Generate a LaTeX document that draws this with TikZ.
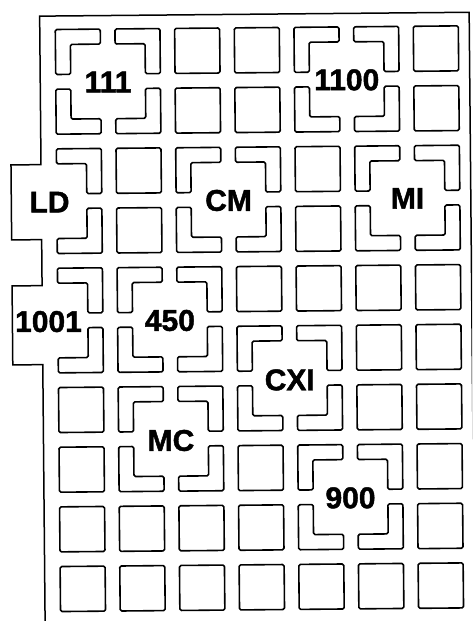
\documentclass[tikz,border=0pt]{standalone}
\usepackage{fontspec}
\setmainfont{Liberation Sans}
\newfontfamily\lblfont[FakeBold=1.5]{Liberation Sans}
\newcommand\cellF[2]{\draw[cellst] ({55+59.67*(#1-1)},{30+59.67*(#2-1)}) rectangle ++(45,45);}
\newcommand\cellL[4]{\begin{scope}[shift={({77.5+59.67*(#1-1)},{52.5+59.67*(#2-1)})},xscale=#3,yscale=#4]
\draw[cellst] (-22.5,-22.5) -- (22.5,-22.5) -- (22.5,-7.5) -- (-7.5,-7.5) -- (-7.5,22.5) -- (-22.5,22.5) -- cycle;
\end{scope}}
\newcommand\cellGroup[2]{\cellL{#1}{#2}{1}{1}\cellL{#1+1}{#2}{-1}{1}\cellL{#1}{#2+1}{1}{-1}\cellL{#1+1}{#2+1}{-1}{-1}}
\begin{document}
\begin{tikzpicture}[x=1pt,y=-1pt,
  cellst/.style={draw=black,line width=1.6pt,rounded corners=1.5pt,line join=round},
  framest/.style={draw=black,line width=1.5pt},
  lbl/.style={font=\lblfont\bfseries\fontsize{30}{30}\selectfont,inner sep=0pt,anchor=center}]
\useasboundingbox (0,0) rectangle (472,621);
\fill[white] (0,0) rectangle (472,621);
\clip (0,0) rectangle (472,621);
\begin{scope}[cm={1,0.009,-0.009,1,(0,0)}]
% outer frame with bumps
\draw[framest] (469,700) -- (469,16.5) -- (39.5,16.5) -- (39.5,165) -- (9.5,165) -- (9.5,240) -- (39.5,240)
  -- (39.5,286) -- (9.5,286) -- (9.5,365) -- (39.5,365) -- (39.5,700);
% full squares
\foreach \i/\j in {3/1,4/1,7/1, 3/2,4/2,7/2, 2/3,5/3, 2/4,5/4, 4/5,5/5,6/5,7/5, 6/6,7/6,
  1/7,6/7,7/7, 1/8,4/8,7/8, 1/9,2/9,3/9,4/9,7/9, 1/10,2/10,3/10,4/10,5/10,6/10,7/10}
  {\cellF{\i}{\j}}
% grouped blocks
\cellGroup{1}{1}
\cellGroup{5}{1}
\cellGroup{3}{3}
\cellGroup{6}{3}
\cellGroup{2}{5}
\cellGroup{4}{6}
\cellGroup{2}{7}
\cellGroup{5}{8}
% half blocks at the left border
\cellL{1}{3}{-1}{1}
\cellL{1}{4}{-1}{-1}
\cellL{1}{5}{-1}{1}
\cellL{1}{6}{-1}{-1}
% labels
\node[lbl] (n111) at (107.3,83.0) {111};
\node[lbl] (n1100) at (346.0,83.0) {1100};
\node[lbl] (nLD) at (47.7,202.5) {LD};
\node[lbl] (nCM) at (226.7,202.5) {CM};
\node[lbl] (nMI) at (405.7,202.0) {MI};
\node[lbl] (n1001) at (45.6,322.0) {1001};
\node[lbl] (n450) at (167.0,322.0) {450};
\node[lbl] (nCXI) at (286.3,382.5) {CXI};
\node[lbl] (nMC) at (167.0,442.0) {MC};
\node[lbl] (n900) at (346.0,501.0) {900};
\end{scope}
\end{tikzpicture}
\end{document}
